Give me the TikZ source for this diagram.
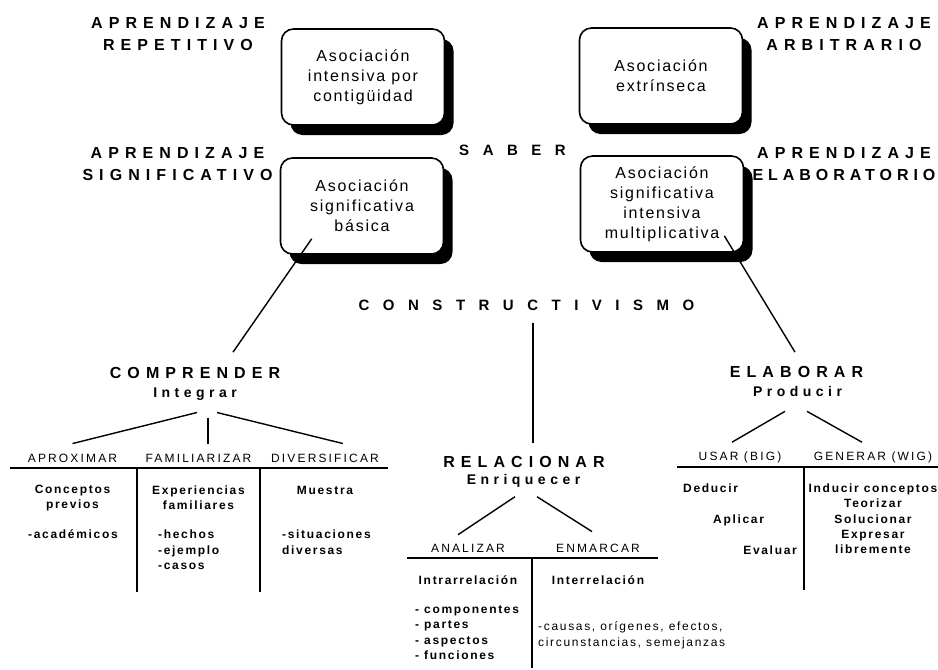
\documentclass[tikz,border=0pt]{standalone}
\usepackage{fontspec}
\setmainfont{Liberation Sans}
\newfontfamily\headfont[LetterSpace=38]{Liberation Sans}
\newfontfamily\widefont[LetterSpace=90]{Liberation Sans}
\newfontfamily\subfont[LetterSpace=32]{Liberation Sans}
\newfontfamily\boxfont[LetterSpace=11]{Liberation Sans}
\newfontfamily\colfont[LetterSpace=18]{Liberation Sans}
\newfontfamily\bodyfont[LetterSpace=14]{Liberation Sans}
\usetikzlibrary{calc,shadows}

\tikzstyle{heading} = [align=center, inner sep=0pt, font=\headfont\bfseries\fontsize{16}{22}\selectfont]
\tikzstyle{headingwide} = [inner sep=0pt, font=\widefont\bfseries\fontsize{15}{18}\selectfont]
\tikzstyle{subheading} = [inner sep=0pt, font=\subfont\bfseries\fontsize{14}{16}\selectfont]
\tikzstyle{assoc} = [rectangle, rounded corners=12pt, draw=black, line width=1.6pt, fill=white, minimum width=163pt, minimum height=96pt, align=center, font=\boxfont\fontsize{16}{20}\selectfont, drop shadow={shadow xshift=9pt, shadow yshift=-10pt, fill=black, opacity=1}]
\tikzstyle{colhead} = [inner sep=0pt, font=\colfont\fontsize{12}{14}\selectfont]
\tikzstyle{body} = [inner sep=0pt, align=center, font=\bodyfont\bfseries\fontsize{12}{15}\selectfont]
\tikzstyle{itemlist} = [inner sep=0pt, align=left, anchor=north west, font=\bodyfont\bfseries\fontsize{12}{15.5}\selectfont]
\tikzstyle{link} = [line width=1.4pt]
\tikzstyle{tablerule} = [line width=2pt]

\begin{document}
\begin{tikzpicture}[x=1pt, y=-1pt]
\useasboundingbox (0,0) rectangle (938,670);

\node (repet) [heading] at (178,34) {APRENDIZAJE\\REPETITIVO};
\node (signif) [heading] at (177.5,164) {APRENDIZAJE\\SIGNIFICATIVO};
\node (arbit) [heading] at (844,34) {APRENDIZAJE\\ARBITRARIO};
\node (elabor) [heading] at (844,164) {APRENDIZAJE\\{\addfontfeature{LetterSpace=31}ELABORATORIO}};

\node (repbox) [assoc] at (363,77) {Asociación\\intensiva por\\contigüidad};
\node (sigbox) [assoc] at (362,206) {Asociación\\significativa\\básica};
\node (arbbox) [assoc] at (661,76) {Asociación\\extrínseca};
\node (elabbox) [assoc] at (662,204) {Asociación\\significativa\\intensiva\\multiplicativa};

\node (saber) [headingwide] at (512.5,150) {SABER};
\node (constr) [headingwide] at (526.5,305) {CONSTRUCTIVISMO};

\node (comprender) [heading] at (195,373) {COMPRENDER};
\node (integrar) [subheading] at (195,394) {Integrar};
\node (relac) [heading] at (524,462) {RELACIONAR};
\node (enriq) [subheading] at (523.5,481) {Enriquecer};
\node (elaborar) [heading] at (796.5,372) {ELABORAR};
\node (producir) [subheading] at (797.5,391) {Producir};

\node (aprox) [colhead] at (72.5,458) {APROXIMAR};
\node (famil) [colhead] at (198.5,458) {FAMILIARIZAR};
\node (divers) [colhead] at (325,458) {DIVERSIFICAR};
\node (analiz) [colhead] at (468,548) {ANALIZAR};
\node (enmarc) [colhead] at (598,548) {ENMARCAR};
\node (usar) [colhead] at (740,457) {USAR (BIG)};
\node (generar) [colhead] at (873,457) {GENERAR (WIG)};

\node (concep) [body] at (72.5,498) {Conceptos\\previos};
\node (acad) [itemlist] at (28,529) {-académicos};
\node (exper) [body] at (198.5,498) {Experiencias\\familiares};
\node (hechos) [itemlist] at (158,530) {-hechos\\-ejemplo\\-casos};
\node (muestra) [body] at (325,490) {Muestra};
\node (situ) [itemlist] at (282,530) {-situaciones\\diversas};

\node (intra) [body] at (468,580) {Intrarrelación};
\node (inter) [body] at (598,580) {Interrelación};
\node (compon) [itemlist] at (415,605) {- componentes\\- partes\\- aspectos\\- funciones};
\node (causas) [itemlist, font=\bodyfont\fontsize{12}{16}\selectfont] at (538,621) {-causas, orígenes, efectos,\\circunstancias, semejanzas};

\node (deducir) [body, anchor=west] at (683,488) {Deducir};
\node (aplicar) [body, anchor=west] at (713,520) {Aplicar};
\node (evaluar) [body, anchor=east] at (797,550) {Evaluar};
\node (inducir) [body, font=\bodyfont\bfseries\fontsize{12}{15.3}\selectfont] at (873,519) {Inducir conceptos\\Teorizar\\Solucionar\\Expresar\\libremente};

\draw [link] ($(sigbox.south west)+(32,-16)$) -- ($(comprender.north)+(38,-15)$);
\draw [link] ($(elabbox.south east)+(-20,-17)$) -- ($(elaborar.north)+(-1.5,-14)$);
\draw [link, shorten <=12pt, shorten >=13pt] ([xshift=6.5pt]constr.south) -- ([xshift=6.5pt]constr.south |- relac.north);

\draw [link] ($(integrar.south)+(2,12)$) -- ($(aprox.north)+(0,-10)$);
\draw [link] ($(integrar.south)+(13,17)$) -- ($(famil.north)+(9.5,-10)$);
\draw [link] ($(integrar.south)+(22,12)$) -- ($(divers.north)+(18,-10)$);

\draw [link] ($(enriq.south)+(-8.5,9)$) -- ($(analiz.north)+(-10,-9)$);
\draw [link] ($(enriq.south)+(13.5,9)$) -- ($(enmarc.north)+(-6,-12)$);

\draw [link] ($(producir.south)+(-12.5,15)$) -- ($(usar.north)+(-8,-9)$);
\draw [link] ($(producir.south)+(9.5,15)$) -- ($(generar.north)+(-11,-9)$);

\draw [tablerule] (10,468) -- (388,468);
\draw [tablerule] (137,468) -- (137,592);
\draw [tablerule] (260,468) -- (260,592);
\draw [tablerule] (407,558) -- (658,558);
\draw [tablerule] (532,558) -- (532,668);
\draw [tablerule] (677,467) -- (938,467);
\draw [tablerule] (804,467) -- (804,590);

\end{tikzpicture}
\end{document}
